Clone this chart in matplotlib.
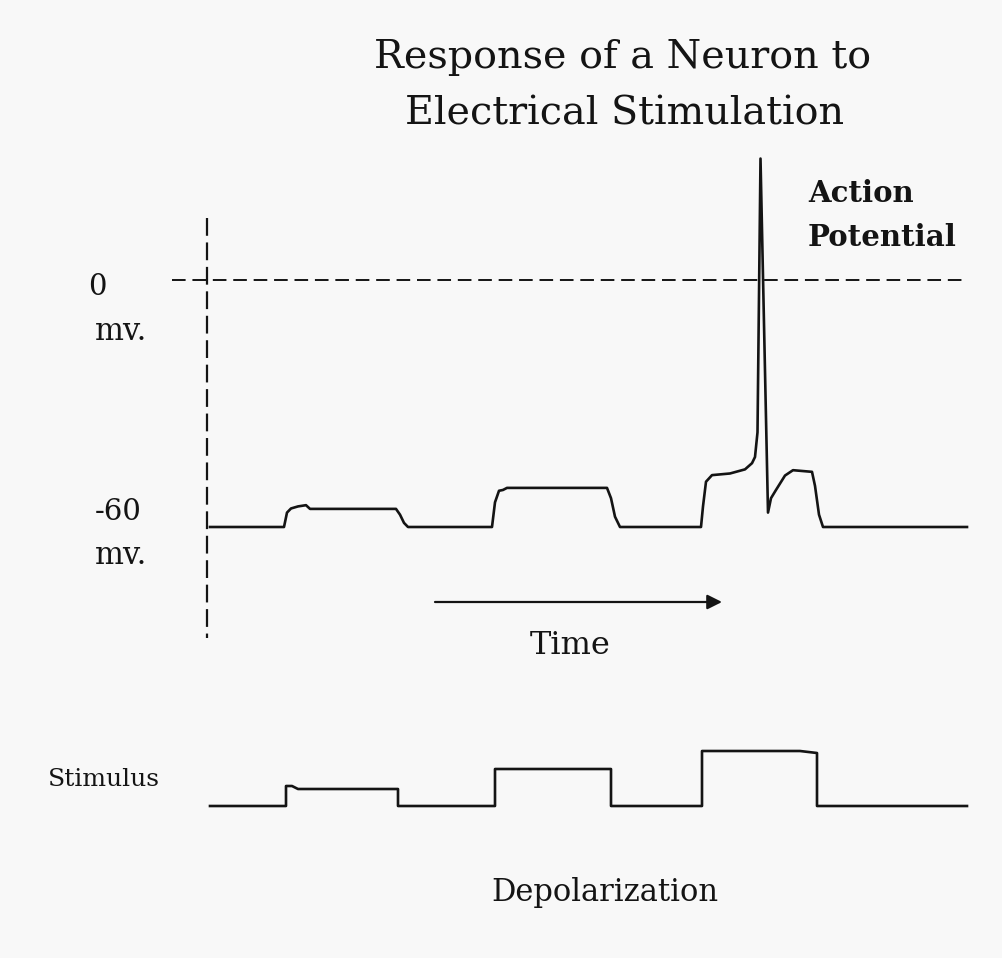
import matplotlib
matplotlib.use('Agg')
import matplotlib.pyplot as plt

# membrane potential trace (time in arbitrary units, potential in mV)
vm_time = [210, 284, 287, 291, 298, 306, 310, 396, 400, 404, 408,
           492, 495, 499, 503, 507, 607, 611, 615, 620,
           701, 703, 706, 712, 730, 745, 752, 755, 757.5, 760.5,
           768, 771, 776, 785, 793, 812, 815, 819, 823, 967]
vm_mv = [-60, -60, -56.5, -55.5, -55, -54.7, -55.6, -55.6, -57, -59, -60,
         -60, -54, -51.2, -51, -50.5, -50.5, -53, -57.5, -60,
         -60, -55, -49, -47.4, -47, -46, -44.5, -43, -37, 29.5,
         -56.5, -53, -51, -47.5, -46.2, -46.6, -50, -57, -60, -60]

# stimulus current (arbitrary units)
stim_time = [210, 286, 286, 292, 298, 398, 398, 495, 495, 611, 611,
             702, 702, 800, 817, 817, 967]
stim_amp = [0, 0, 2.0, 2.0, 1.7, 1.7, 0, 0, 3.7, 3.7, 0,
            0, 5.5, 5.5, 5.3, 0, 0]

W, H = 1003, 958
bg = '#f8f8f8'
ink = '#141414'
serif = ['DejaVu Serif']

fig = plt.figure(figsize=(W / 100, H / 100), dpi=100, facecolor=bg)

# axes for the membrane potential: 0 mV at pixel row 280, -60 mV at row 527
px_per_mv = (527 - 280) / 60.0
ax = fig.add_axes([0, 0, 1, 1])
ax.set_xlim(0, W)
ax.set_ylim(-60 - (H - 527) / px_per_mv, -60 + 527 / px_per_mv)
ax.axis('off')
ax.plot(vm_time, vm_mv, color=ink, lw=1.9, solid_joinstyle='round')
ax.plot([172, 965], [0, 0], color=ink, lw=1.4, ls=(0, (7, 3.5)))

# axes for the stimulus trace: baseline at pixel row 806, 10 px per unit
px_per_unit = 10.0
ax2 = fig.add_axes([0, 0, 1, 1])
ax2.patch.set_alpha(0)
ax2.set_xlim(0, W)
ax2.set_ylim(-(H - 806) / px_per_unit, 806 / px_per_unit)
ax2.axis('off')
ax2.plot(stim_time, stim_amp, color=ink, lw=1.9)

# overlay in pixel coordinates for labels and decorations
ov = fig.add_axes([0, 0, 1, 1])
ov.patch.set_alpha(0)
ov.set_xlim(0, W)
ov.set_ylim(H, 0)
ov.axis('off')

ov.plot([207, 207], [218, 638], color=ink, lw=1.6, ls=(0, (8, 3)))
ov.annotate('', xy=(722, 602), xytext=(435, 602),
            arrowprops=dict(arrowstyle='-|>', color=ink, lw=1.6,
                            mutation_scale=22, shrinkA=0, shrinkB=0))

ov.text(623, 57, 'Response of a Neuron to', ha='center', va='center',
        fontsize=28.5, family=serif, color=ink)
ov.text(625, 114, 'Electrical Stimulation', ha='center', va='center',
        fontsize=28.5, family=serif, color=ink)
ov.text(808, 193, 'Action', ha='left', va='center', fontsize=21,
        family=serif, fontweight='bold', color=ink)
ov.text(808, 237, 'Potential', ha='left', va='center', fontsize=21,
        family=serif, fontweight='bold', color=ink)
ov.text(88, 287, '0', ha='left', va='center', fontsize=21, family=serif,
        color=ink)
ov.text(95, 331, 'mv.', ha='left', va='center', fontsize=22, family=serif,
        color=ink)
ov.text(95, 512, '-60', ha='left', va='center', fontsize=21, family=serif,
        color=ink)
ov.text(95, 556, 'mv.', ha='left', va='center', fontsize=22, family=serif,
        color=ink)
ov.text(570, 645, 'Time', ha='center', va='center', fontsize=23,
        family=serif, color=ink)
ov.text(48, 780, 'Stimulus', ha='left', va='center', fontsize=18,
        family=serif, color=ink)
ov.text(605, 892, 'Depolarization', ha='center', va='center', fontsize=22,
        family=serif, color=ink)

fig.savefig('out.png', dpi=100, facecolor=bg)
